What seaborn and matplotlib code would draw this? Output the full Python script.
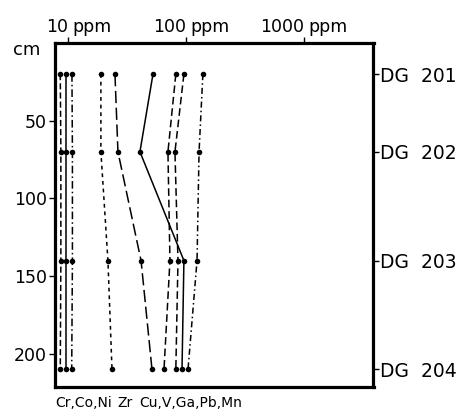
import numpy as np
import pandas as pd
import matplotlib
matplotlib.use('Agg')
import matplotlib.pyplot as plt
import matplotlib.transforms as mtransforms
import seaborn as sns

# depth of samples (cm) and sample names
depths = [20, 70, 140, 210]
samples = ['DG  201', 'DG  202', 'DG  203', 'DG  204']

# trace element contents (ppm) read from the profile, top to bottom
cr = [8.6, 8.7, 8.7, 8.6]
co = [9.6, 9.6, 9.6, 9.6]
ni = [10.8, 10.9, 10.9, 10.75]
zr = [19.0, 19.0, 21.8, 23.6]
cu = [25.0, 26.5, 41.6, 51.5]
v = [52.5, 40.7, 96.0, 92.5]
ga = [82.0, 70.3, 73.1, 65.1]
pb = [96.0, 80.6, 85.5, 82.0]
mn = [139.0, 129.0, 124.0, 104.0]

elements = ['Cr', 'Co', 'Ni', 'Zr', 'Cu', 'V', 'Ga', 'Pb', 'Mn']
values = [cr, co, ni, zr, cu, v, ga, pb, mn]
styles = [(0, (4, 2)), '-', (0, (5, 2, 1, 2)), (0, (2.5, 2.5)), (0, (8, 3)),
          '-', (0, (5, 2.5)), (0, (5, 2.5)), (0, (4, 2, 1, 2))]

xticks = [10, 100, 1000]
yticks = [50, 100, 150, 200]

sns.set_style('white')
plt.rcParams['font.family'] = ['DejaVu Sans']
plt.rcParams['text.color'] = 'black'
plt.rcParams['xtick.color'] = 'black'
plt.rcParams['ytick.color'] = 'black'

fig = plt.figure(figsize=(4.66, 4.15), dpi=100)
ax = fig.add_axes([55 / 466, 1 - 386.5 / 415, (373.5 - 55) / 466, (386.5 - 43) / 415])

for name, vals, ls in zip(elements, values, styles):
    df = pd.DataFrame({'ppm': vals, 'depth': depths})
    sns.lineplot(data=df, x='ppm', y='depth', sort=False, orient='y', ax=ax,
                 color='black', linewidth=1.1, linestyle=ls,
                 marker='o', markersize=4, markeredgewidth=0)

ax.set_xscale('log')
ax.set_xlim(7.76, 3880)
ax.set_ylim(221, 0)
ax.set_xlabel('')
ax.set_ylabel('')

for s in ax.spines.values():
    s.set_linewidth(2.3)
    s.set_color('black')

ax.xaxis.tick_top()
ax.set_xticks(xticks)
ax.xaxis.set_minor_locator(matplotlib.ticker.NullLocator())
ax.set_xticklabels([])
ax.tick_params(axis='x', which='major', direction='out', length=4, width=1, top=True, bottom=False)

ax.set_yticks(yticks)
ax.set_yticklabels([str(t) for t in yticks], fontsize=12.5)
ax.tick_params(axis='y', direction='out', length=4, width=1, left=True, pad=2)

trans = mtransforms.blended_transform_factory(ax.transData, ax.transAxes)
for t in xticks:
    ax.annotate(str(t), xy=(t, 1), xycoords=trans, xytext=(0, 8), textcoords='offset points',
                ha='right', va='baseline', fontsize=12.5)
    ax.annotate('ppm', xy=(t, 1), xycoords=trans, xytext=(3.5, 8), textcoords='offset points',
                ha='left', va='baseline', fontsize=12.5)

ax2 = ax.twinx()
ax2.set_ylim(221, 0)
ax2.set_yticks(depths)
ax2.set_yticklabels(samples, fontsize=13.5)
ax2.tick_params(axis='y', direction='out', length=4, width=1, right=True, pad=1)
for s in ax2.spines.values():
    s.set_visible(False)

fig.text(13 / 466, 1 - 50 / 415, 'cm', fontsize=13, va='center', ha='left')
fig.text(55 / 466, 1 - 403 / 415, 'Cr,Co,Ni', fontsize=10, va='center', ha='left')
fig.text(117 / 466, 1 - 403 / 415, 'Zr', fontsize=10, va='center', ha='left')
fig.text(139 / 466, 1 - 403 / 415, 'Cu,V,Ga,Pb,Mn', fontsize=10, va='center', ha='left')

fig.savefig('out.png', dpi=100)
